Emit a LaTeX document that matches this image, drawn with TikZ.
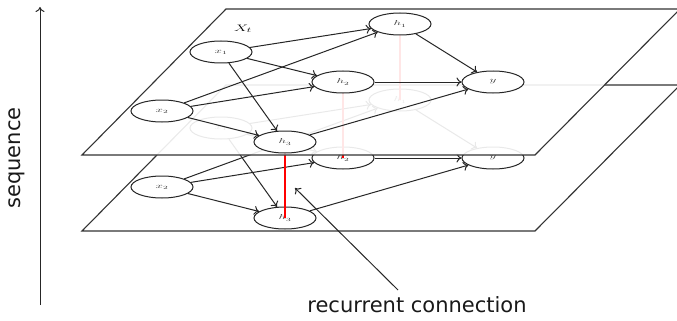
\documentclass[tikz,border=0pt]{standalone}
\usepackage{fontspec}
\setsansfont{DejaVu Sans}
\usetikzlibrary{shapes.geometric,arrows.meta}
\newcommand{\sqz}[1]{\scalebox{1.1}[0.6]{\color{black!80}\fontsize{12}{14}\selectfont$#1$}}
\begin{document}
\begin{tikzpicture}[x=1pt,y=-1pt,
  plane/.style={draw=black!80, line width=1.1pt, fill=white},
  ell/.style={ellipse, draw=black!85, line width=1pt, fill=white, minimum width=62pt, minimum height=22pt, inner sep=0pt},
  edge/.style={draw=black!85, line width=1pt, -{To[length=5pt,width=9pt]}},
  rec/.style={draw=red, line width=1.4pt},
  ann/.style={draw=black!85, line width=1pt, -{To[length=5pt,width=9pt]}},
  txt/.style={font=\sffamily\fontsize{21}{25}\selectfont, text=black!90}
]
\useasboundingbox (0,0) rectangle (677,321);

% lower plane
\path[plane] (226,85) -- (680,85) -- (535,231) -- (82,231) -- cycle;
\node[ell] (x1l) at (221,128) {\sqz{x_1}};
\node[ell] (x2l) at (162,187) {\sqz{x_2}};
\node[ell] (h3l) at (285,218) {\sqz{h_3}};
\node[ell] (h2l) at (343,158) {\sqz{h_2}};
\node[ell] (h1l) at (400,100) {\sqz{h_1}};
\node[ell] (yl)  at (493,158) {\sqz{y}};
\foreach \a/\b in {x1l/h1l,x1l/h2l,x1l/h3l,x2l/h1l,x2l/h2l,x2l/h3l,h1l/yl,h2l/yl,h3l/yl}
  \draw[edge] (\a) -- (\b);

% upper node positions (for recurrent links)
\coordinate (x1c) at (221,52);
\coordinate (x2c) at (162,111);
\coordinate (h3c) at (285,142);
\coordinate (h2c) at (343,82);
\coordinate (h1c) at (400,24);
\coordinate (yc)  at (493,82);
\draw[rec] (h1c) -- (h1l.center);
\draw[rec] (h2c) -- (h2l.center);
\draw[rec] (h3c) -- (h3l.center);

% upper plane
\path[plane, fill opacity=0.9] (226,9) -- (680,9) -- (535,155) -- (82,155) -- cycle;
\node (Xt) at (243,29) {\scalebox{1.1}[0.65]{\fontsize{15}{17}\selectfont$X_t$}};
\node[ell] (x1u) at (x1c) {\sqz{x_1}};
\node[ell] (x2u) at (x2c) {\sqz{x_2}};
\node[ell] (h3u) at (h3c) {\sqz{h_3}};
\node[ell] (h2u) at (h2c) {\sqz{h_2}};
\node[ell] (h1u) at (h1c) {\sqz{h_1}};
\node[ell] (yu)  at (yc)  {\sqz{y}};
\foreach \a/\b in {x1u/h1u,x1u/h2u,x1u/h3u,x2u/h1u,x2u/h2u,x2u/h3u,h1u/yu,h2u/yu,h3u/yu}
  \draw[edge] (\a) -- (\b);

% sequence axis
\coordinate (sb) at (40,305);
\coordinate (st) at (40,7);
\draw[ann] (sb) -- (st);
\node[txt, rotate=90] (seq) at (17,158) {sequence};

% annotation
\node[txt] (rc) at (417,305) {recurrent connection};
\coordinate (rcs) at (398,290);
\coordinate (rce) at (295,188);
\draw[ann] (rcs) -- (rce);
\end{tikzpicture}
\end{document}
